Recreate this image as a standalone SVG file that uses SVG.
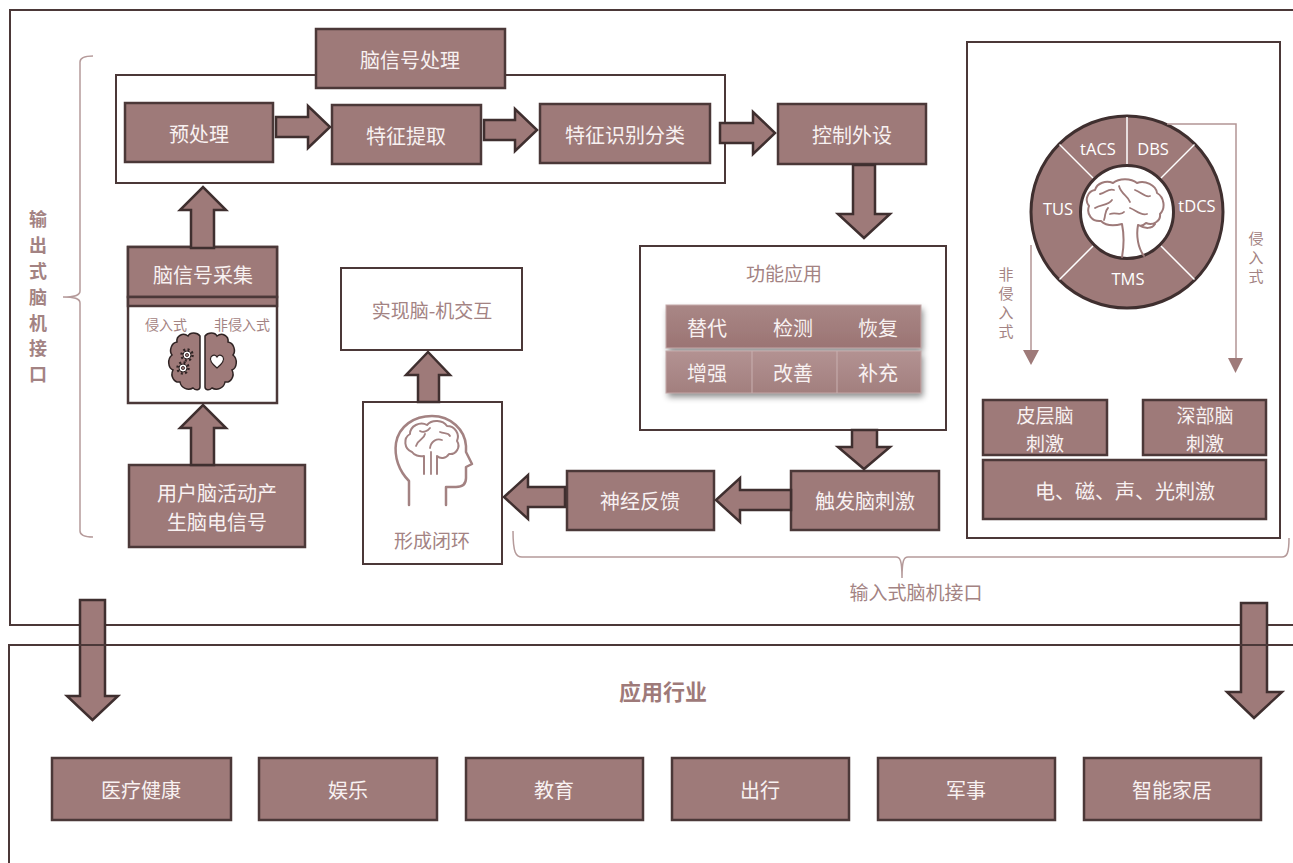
<svg xmlns="http://www.w3.org/2000/svg" width="1293" height="863" viewBox="0 0 1293 863">
  <defs>
    <style>
      .box { fill:#9e7a79; stroke:#4b3838; stroke-width:2.5; }
      .frame { fill:none; stroke:#4b3838; stroke-width:2; }
      .wframe { fill:#ffffff; stroke:#4b3838; stroke-width:2; }
      .arrow { fill:#9e7a79; stroke:#3f2f2f; stroke-width:2.5; stroke-linejoin:miter; }
      .t { font-family:"Noto Sans CJK SC","Noto Sans",sans-serif; font-size:20px; fill:#f8f1f1; text-anchor:middle; dominant-baseline:central; }
      .lt { fill:#a38383; }
      .lat { font-family:"Open Sans","Liberation Sans",sans-serif; font-size:16.5px; fill:#ffffff; text-anchor:middle; dominant-baseline:central; }
      .brace { fill:none; stroke:#b59a9a; stroke-width:1.5; }
      .thin { fill:none; stroke:#b39595; stroke-width:1.5; }
      .icon { fill:none; stroke:#a38282; stroke-width:2.5; stroke-linecap:round; stroke-linejoin:round; }
    </style>
    <linearGradient id="row1" x1="0" y1="0" x2="0" y2="1">
      <stop offset="0" stop-color="#a98786"/>
      <stop offset="1" stop-color="#9b7473"/>
    </linearGradient>
    <linearGradient id="row2" x1="0" y1="0" x2="0" y2="1">
      <stop offset="0" stop-color="#b39292"/>
      <stop offset="1" stop-color="#a27f7e"/>
    </linearGradient>
    <filter id="shadow" x="-10%" y="-20%" width="125%" height="150%">
      <feDropShadow dx="2" dy="4" stdDeviation="3" flood-color="#000" flood-opacity="0.45"/>
    </filter>
  </defs>

  <rect width="1293" height="863" fill="#ffffff"/>

  <!-- upper frame -->
  <rect class="frame" x="10" y="10" width="1300" height="615"/>

  <!-- output-side brace and label -->
  <g id="output-bci-label">
    <path class="brace" d="M93,56 C84,56 80,58 80,62 V291 C80,295 76,297 63,297 C76,297 80,299 80,303 V531 C80,535 84,537 93,537"/>
    <g class="t lt" style="font-size:18px;font-weight:bold">
      <text x="38" y="218">输</text>
      <text x="38" y="244">出</text>
      <text x="38" y="270">式</text>
      <text x="38" y="296">脑</text>
      <text x="38" y="322">机</text>
      <text x="38" y="347">接</text>
      <text x="38" y="373">口</text>
    </g>
  </g>

  <!-- signal processing block -->
  <g id="signal-processing">
    <rect class="wframe" x="116" y="75" width="609" height="108"/>
    <rect class="box" x="316" y="29" width="189" height="59"/>
    <text class="t" x="410" y="59">脑信号处理</text>
  </g>
  <g id="preprocess">
    <rect class="box" x="125" y="103" width="148" height="59"/>
    <text class="t" x="199" y="133">预处理</text>
  </g>
  <g id="feature-extract">
    <rect class="box" x="332" y="105" width="149" height="59"/>
    <text class="t" x="406" y="135">特征提取</text>
  </g>
  <g id="feature-classify">
    <rect class="box" x="540" y="104" width="170" height="59"/>
    <text class="t" x="625" y="134">特征识别分类</text>
  </g>
  <g id="control-device">
    <rect class="box" x="778" y="104" width="148" height="60"/>
    <text class="t" x="852" y="134">控制外设</text>
  </g>

  <!-- signal acquisition -->
  <g id="signal-acquisition">
    <rect x="128" y="247" width="149" height="156" fill="#ffffff" stroke="#4b3838" stroke-width="2.5"/>
    <rect class="box" x="128" y="247" width="149" height="50"/>
    <rect class="box" x="128" y="297" width="149" height="9"/>
    <text class="t" x="203" y="274">脑信号采集</text>
    <text class="t lt" x="166" y="324" style="font-size:14px">侵入式</text>
    <text class="t lt" x="242" y="324" style="font-size:14px">非侵入式</text>
    <path d="M200,336 C197,332 190,332 188,336 C183,332 176,336 177,342 C171,343 169,351 172,355 C167,359 168,368 173,370 C170,376 174,383 180,382 C181,388 188,391 193,388 C196,391 200,390 200,387 Z" fill="#9e7a79" stroke="#2f2323" stroke-width="1.5"/>
    <path d="M205,336 C208,332 215,332 217,336 C222,332 229,336 228,342 C234,343 236,351 233,355 C238,359 237,368 232,370 C235,376 231,383 225,382 C224,388 217,391 212,388 C209,391 205,390 205,387 Z" fill="#9e7a79" stroke="#2f2323" stroke-width="1.5"/>
    <circle cx="187" cy="355" r="5.5" fill="none" stroke="#2f2323" stroke-width="2.5" stroke-dasharray="2 2.3"/>
    <circle cx="187" cy="355" r="4" fill="#ffffff" stroke="#2f2323" stroke-width="1"/>
    <circle cx="187" cy="355" r="1.6" fill="#9e7a79" stroke="#2f2323" stroke-width="0.8"/>
    <circle cx="183" cy="368" r="5.5" fill="none" stroke="#2f2323" stroke-width="2.5" stroke-dasharray="2 2.3"/>
    <circle cx="183" cy="368" r="4" fill="#ffffff" stroke="#2f2323" stroke-width="1"/>
    <circle cx="183" cy="368" r="1.6" fill="#9e7a79" stroke="#2f2323" stroke-width="0.8"/>
    <path d="M217,368 C211,363 209,360 211,357 C213,354 216,355 217,357 C218,355 221,354 223,357 C225,360 223,363 217,368 Z" fill="#ffffff" stroke="#2f2323" stroke-width="1.2"/>
  </g>

  <g id="user-activity">
    <rect class="box" x="129" y="465" width="176" height="82"/>
    <text class="t" x="217" y="492">用户脑活动产</text>
    <text class="t" x="217" y="521">生脑电信号</text>
  </g>

  <!-- closed loop -->
  <g id="interaction">
    <rect class="wframe" x="341" y="268" width="181" height="82"/>
    <text class="t lt" x="432" y="309" style="font-size:19px">实现脑-机交互</text>
  </g>
  <g id="closed-loop">
    <rect class="wframe" x="363" y="402" width="139" height="162"/>
    <path class="icon" d="M409,505 V481 C399,471 394,457 396,443 C399,426 414,416 432,416 C451,416 465,430 466,446 L466,452 L472,464 L466,467 L466,478 C466,484 462,487 456,487 L446,487 V505"/>
    <path class="icon" style="stroke-width:2" d="M412,452 C404,449 403,438 410,434 C410,426 420,421 427,425 C432,419 443,420 447,426 C455,426 460,434 457,441 C461,447 456,455 449,454 C446,459 440,459 437,456 L437,474 M424,456 L424,474 M424,456 C419,457 414,455 412,452"/>
    <path class="icon" style="stroke-width:1.8" d="M416,446 C418,439 424,440 425,434 M430,448 C431,441 437,438 442,440 M440,432 C444,434 448,432 450,436 M420,431 C423,433 428,431 430,428 M431,452 L431,474"/>
    <text class="t lt" x="432" y="539" style="font-size:19px">形成闭环</text>
  </g>
  <g id="neuro-feedback">
    <rect class="box" x="567" y="471" width="147" height="59"/>
    <text class="t" x="640" y="500">神经反馈</text>
  </g>
  <g id="trigger-stimulation">
    <rect class="box" x="791" y="471" width="148" height="59"/>
    <text class="t" x="865" y="500">触发脑刺激</text>
  </g>

  <!-- functional applications -->
  <g id="function-apps">
    <rect class="wframe" x="640" y="246" width="306" height="184"/>
    <text class="t lt" x="784" y="272" style="font-size:19px">功能应用</text>
    <g filter="url(#shadow)">
      <rect x="666" y="305" width="255" height="43" fill="url(#row1)"/>
      <rect x="666" y="351" width="255" height="42" fill="url(#row2)"/>
    </g>
    <rect x="666" y="305" width="255" height="43" fill="none" stroke="#c5a9a9" stroke-width="1"/>
    <rect x="666" y="351" width="255" height="42" fill="none" stroke="#c5a9a9" stroke-width="1"/>
    <line x1="752" y1="351" x2="752" y2="393" stroke="#c9b0b0" stroke-width="1"/>
    <line x1="837" y1="351" x2="837" y2="393" stroke="#c9b0b0" stroke-width="1"/>
    <text class="t" x="707" y="327">替代</text>
    <text class="t" x="793" y="327">检测</text>
    <text class="t" x="878" y="327">恢复</text>
    <text class="t" x="707" y="372">增强</text>
    <text class="t" x="793" y="372">改善</text>
    <text class="t" x="878" y="372">补充</text>
  </g>

  <!-- stimulation methods panel -->
  <g id="stimulation-panel">
    <rect class="wframe" x="967" y="42" width="313" height="496"/>
    <circle cx="1127" cy="212" r="96" fill="#9e7a79" stroke="#3f2f2f" stroke-width="3"/>
    <g stroke="#ffffff" stroke-width="1.5">
      <line x1="1127" y1="117" x2="1127" y2="165"/>
      <line x1="1059.5" y1="144.5" x2="1094" y2="179"/>
      <line x1="1194.5" y1="144.5" x2="1160" y2="179"/>
      <line x1="1059.5" y1="279.5" x2="1094" y2="245"/>
      <line x1="1194.5" y1="279.5" x2="1160" y2="245"/>
    </g>
    <circle cx="1127" cy="212" r="46.5" fill="#ffffff" stroke="#3f2f2f" stroke-width="3"/>
    <path fill="none" stroke="#9e7a79" stroke-width="2" stroke-linecap="round" stroke-linejoin="round" d="M1122,224 C1114,226 1106,226 1101,221 C1092,222 1086,214 1089,206 C1084,200 1088,191 1095,190 C1097,183 1106,180 1113,183 C1119,178 1131,178 1137,183 C1145,180 1156,185 1157,193 C1164,197 1166,208 1160,214 C1161,221 1153,226 1146,223 C1143,226 1140,226 1138,225 M1122,224 C1124,234 1124,246 1122,257 M1138,225 C1136,236 1138,248 1144,256 M1138,225 C1145,229 1152,229 1155,224"/>
    <path fill="none" stroke="#9e7a79" stroke-width="1.8" stroke-linecap="round" d="M1095,208 C1101,204 1108,206 1112,200 M1100,194 C1106,193 1108,188 1114,190 M1119,186 C1121,194 1128,196 1130,202 M1135,190 C1141,192 1145,198 1150,196 M1130,208 C1136,210 1140,216 1147,214 M1110,214 C1116,212 1121,216 1124,212 M1104,220 C1106,215 1104,212 1108,208"/>
    <text class="lat" x="1098" y="148">tACS</text>
    <text class="lat" x="1153" y="148">DBS</text>
    <text class="lat" x="1197" y="205">tDCS</text>
    <text class="lat" x="1058" y="208">TUS</text>
    <text class="lat" x="1128" y="278">TMS</text>
    <path class="thin" d="M1167,124 H1236 V360"/>
    <path d="M1228,358 L1243,358 L1235.5,373 Z" fill="#9e7a79"/>
    <path class="thin" d="M1031,245 V352"/>
    <path d="M1023,350 L1039,350 L1031,365 Z" fill="#9e7a79"/>
    <g class="t lt" style="font-size:15px">
      <text x="1006" y="273">非</text>
      <text x="1006" y="292">侵</text>
      <text x="1006" y="311">入</text>
      <text x="1006" y="330">式</text>
      <text x="1256" y="237">侵</text>
      <text x="1256" y="256">入</text>
      <text x="1256" y="275">式</text>
    </g>
  </g>
  <g id="cortical-stim">
    <rect class="box" x="983" y="400" width="124" height="55"/>
    <text class="t" x="1045" y="414" style="font-size:19px">皮层脑</text>
    <text class="t" x="1045" y="442" style="font-size:19px">刺激</text>
  </g>
  <g id="deep-stim">
    <rect class="box" x="1143" y="400" width="123" height="55"/>
    <text class="t" x="1205" y="414" style="font-size:19px">深部脑</text>
    <text class="t" x="1205" y="442" style="font-size:19px">刺激</text>
  </g>
  <g id="stim-types">
    <rect class="box" x="983" y="460" width="283" height="59"/>
    <text class="t" x="1125" y="490">电、磁、声、光刺激</text>
  </g>

  <!-- input-side brace and label -->
  <g id="input-bci-label">
    <path class="brace" d="M513,531 C513,553 516,557 522,557 H896 C900,557 902,560 902,578 C902,560 904,557 908,557 H1282 C1287,557 1289,553 1289,538"/>
    <text class="t lt" x="916" y="591" style="font-size:19px">输入式脑机接口</text>
  </g>

  <!-- connectors -->
  <g id="connectors">
    <path class="arrow" d="M276,117 H308 V106 L330,127 L308,148 V137 H276 Z"/>
    <path class="arrow" d="M484,120 H515 V109 L537,130 L515,151 V140 H484 Z"/>
    <path class="arrow" d="M720,123 H753 V112 L775,133 L753,154 V143 H720 Z"/>
    <path class="arrow" d="M853,165 V214 H838 L864,238 L890,214 H875 V165 Z"/>
    <path class="arrow" d="M852,430 V447 H838 L864,469 L890,447 H877 V430 Z"/>
    <path class="arrow" d="M791,490 H740 V478 L716,500 L740,522 V510 H791 Z"/>
    <path class="arrow" d="M565,487 H528 V475 L504,497 L528,519 V507 H565 Z"/>
    <path class="arrow" d="M418,402 V375 H406 L428,352 L450,375 H439 V402 Z"/>
    <path class="arrow" d="M191,248 V210 H180 L203,187 L226,210 H214 V248 Z"/>
    <path class="arrow" d="M191,465 V428 H180 L203,405 L226,428 H214 V465 Z"/>
    <path class="arrow" d="M80,600 V696 H67 L92.5,720 L118,696 H105 V600 Z"/>
    <path class="arrow" d="M1241,603 V692 H1227 L1254,718 L1282,692 H1267 V603 Z"/>
  </g>

  <!-- lower frame: industries -->
  <rect class="frame" x="9" y="645" width="1300" height="300"/>
  <g id="industries-title">
    <text class="t" x="663" y="690" style="font-size:22px;font-weight:bold;fill:#9e7a79">应用行业</text>
  </g>
  <g id="ind-medical">
    <rect class="box" x="52" y="758" width="179" height="62"/>
    <text class="t" x="141" y="789">医疗健康</text>
  </g>
  <g id="ind-entertainment">
    <rect class="box" x="259" y="758" width="178" height="62"/>
    <text class="t" x="348" y="789">娱乐</text>
  </g>
  <g id="ind-education">
    <rect class="box" x="466" y="758" width="177" height="62"/>
    <text class="t" x="554" y="789">教育</text>
  </g>
  <g id="ind-travel">
    <rect class="box" x="672" y="758" width="177" height="62"/>
    <text class="t" x="760" y="789">出行</text>
  </g>
  <g id="ind-military">
    <rect class="box" x="878" y="758" width="177" height="62"/>
    <text class="t" x="966" y="789">军事</text>
  </g>
  <g id="ind-smarthome">
    <rect class="box" x="1084" y="758" width="177" height="62"/>
    <text class="t" x="1172" y="789">智能家居</text>
  </g>
</svg>
